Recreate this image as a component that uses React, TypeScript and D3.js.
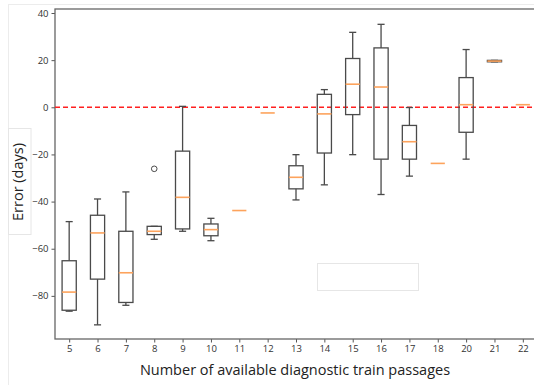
import React, { useEffect, useRef } from 'react';
import * as d3 from 'd3';

// box statistics per category (days)
const categories = ['5', '6', '7', '8', '9', '10', '11', '12', '13', '14', '15', '16', '17', '18', '20', '21', '22'];
const whiskerLow = [-86.5, -92.3, -84.0, -56.0, -52.6, -56.6, -43.8, -2.4, -39.3, -32.9, -20.1, -37.0, -29.2, -23.8, -22.0, 19.3, 1.1];
const q1 = [-86.1, -72.9, -82.8, -54.0, -51.6, -54.5, -43.8, -2.4, -34.6, -19.4, -3.1, -22.0, -22.0, -23.8, -10.6, 19.3, 1.1];
const medians = [-78.4, -53.3, -70.2, -52.6, -38.2, -51.9, -43.8, -2.4, -29.7, -2.8, 9.8, 8.6, -14.6, -23.8, 1.1, 19.6, 1.1];
const q3 = [-65.1, -45.8, -52.6, -50.5, -18.6, -49.5, -43.8, -2.4, -24.8, 5.5, 20.7, 25.2, -7.7, -23.8, 12.6, 19.9, 1.1];
const whiskerHigh = [-48.5, -38.9, -35.9, -50.5, 0.4, -47.1, -43.8, -2.4, -20.1, 7.5, 31.8, 35.2, -0.1, -23.8, 24.5, 19.9, 1.1];
const outliers = [{ cat: '8', value: -26.1 }];
const yTicks = [-80, -60, -40, -20, 0, 20, 40];

const App = () => {
    const chartRef = useRef<SVGSVGElement>(null);

    useEffect(() => {
        drawChart();
    }, []);

    const drawChart = () => {
        const svg = d3.select(chartRef.current);
        svg.selectAll('*').remove();

        const left = 55, right = 537, top = 9, bottom = 339;

        const x = d3.scalePoint<string>()
            .domain(categories)
            .range([left, right])
            .padding(0.5);
        const boxW = x.step() * 0.5;

        const y = d3.scaleLinear()
            .domain([-98.3, 41.7])
            .range([bottom, top]);

        // faint outer frame of the pasted figure
        svg.append('rect')
            .attr('x', 8.5).attr('y', 4.5)
            .attr('width', 540).attr('height', 400)
            .attr('fill', 'none')
            .attr('stroke', '#ececec');

        // axes
        const yAxis = svg.append('g')
            .attr('transform', `translate(${left},0)`)
            .call(d3.axisLeft(y).tickValues(yTicks).tickSize(3.5).tickPadding(3));
        const xAxis = svg.append('g')
            .attr('transform', `translate(0,${bottom})`)
            .call(d3.axisBottom(x).tickSize(3.5).tickPadding(3));
        [yAxis, xAxis].forEach(g => {
            g.select('.domain').remove();
            g.selectAll('line').attr('stroke', '#555');
            g.selectAll('text')
                .attr('fill', '#333')
                .style('font-family', 'Open Sans')
                .style('font-size', '9.5px');
        });

        // spines
        svg.append('rect')
            .attr('x', left).attr('y', top)
            .attr('width', right - left).attr('height', bottom - top)
            .attr('fill', 'none')
            .attr('stroke', '#666')
            .attr('stroke-width', 1.3);

        // zero line
        svg.append('line')
            .attr('x1', left).attr('x2', right)
            .attr('y1', y(0)).attr('y2', y(0))
            .attr('stroke', '#ff2020')
            .attr('stroke-width', 1.6)
            .attr('stroke-dasharray', '5,3');

        const boxes = svg.append('g').selectAll('g')
            .data(categories)
            .enter().append('g');

        const stroke = '#4a4a4a';
        // whiskers
        boxes.append('line')
            .attr('x1', d => x(d)!).attr('x2', d => x(d)!)
            .attr('y1', (d, i) => y(whiskerHigh[i])).attr('y2', (d, i) => y(q3[i]))
            .attr('stroke', stroke).attr('stroke-width', 1.3);
        boxes.append('line')
            .attr('x1', d => x(d)!).attr('x2', d => x(d)!)
            .attr('y1', (d, i) => y(q1[i])).attr('y2', (d, i) => y(whiskerLow[i]))
            .attr('stroke', stroke).attr('stroke-width', 1.3);
        // caps
        [whiskerHigh, whiskerLow].forEach(arr => {
            boxes.filter((d, i) => q3[i] !== q1[i])
                .append('line')
                .attr('x1', d => x(d)! - boxW / 4).attr('x2', d => x(d)! + boxW / 4)
                .attr('y1', d => y(arr[categories.indexOf(d)]))
                .attr('y2', d => y(arr[categories.indexOf(d)]))
                .attr('stroke', stroke).attr('stroke-width', 1.3);
        });
        // boxes
        boxes.filter((d, i) => q3[i] !== q1[i])
            .append('rect')
            .attr('x', d => x(d)! - boxW / 2)
            .attr('width', boxW)
            .attr('y', d => y(q3[categories.indexOf(d)]))
            .attr('height', d => y(q1[categories.indexOf(d)]) - y(q3[categories.indexOf(d)]))
            .attr('fill', 'none')
            .attr('stroke', stroke).attr('stroke-width', 1.3);
        // medians
        boxes.append('line')
            .attr('x1', d => x(d)! - boxW / 2).attr('x2', d => x(d)! + boxW / 2)
            .attr('y1', (d, i) => y(medians[i])).attr('y2', (d, i) => y(medians[i]))
            .attr('stroke', '#fda35c').attr('stroke-width', 1.6);

        // fliers
        svg.selectAll('.flier')
            .data(outliers)
            .enter().append('circle')
            .attr('class', 'flier')
            .attr('cx', d => x(d.cat)!)
            .attr('cy', d => y(d.value))
            .attr('r', 2.8)
            .attr('fill', 'none')
            .attr('stroke', stroke).attr('stroke-width', 1);

        // blank patch inside the plot
        svg.append('rect')
            .attr('x', 317.5).attr('y', 263.5)
            .attr('width', 101).attr('height', 27)
            .attr('fill', '#fff')
            .attr('stroke', '#e6e6e6');

        // y label on its white patch
        svg.append('rect')
            .attr('x', 8.5).attr('y', 128.5)
            .attr('width', 22.5).attr('height', 106)
            .attr('fill', '#fff')
            .attr('stroke', '#e6e6e6');
        svg.append('text')
            .attr('transform', 'translate(23,182) rotate(-90)')
            .attr('text-anchor', 'middle')
            .attr('fill', '#222')
            .style('font-family', 'Open Sans')
            .style('font-size', '14.5px')
            .text('Error (days)');

        svg.append('text')
            .attr('x', 295).attr('y', 375)
            .attr('text-anchor', 'middle')
            .attr('fill', '#222')
            .style('font-family', 'Open Sans')
            .style('font-size', '14.5px')
            .text('Number of available diagnostic train passages');
    };

    return (
        <svg ref={chartRef} width={534} height={385}
            style={{ position: 'absolute', left: 0, top: 0, background: '#fff' }}></svg>
    );
};

export default App;
